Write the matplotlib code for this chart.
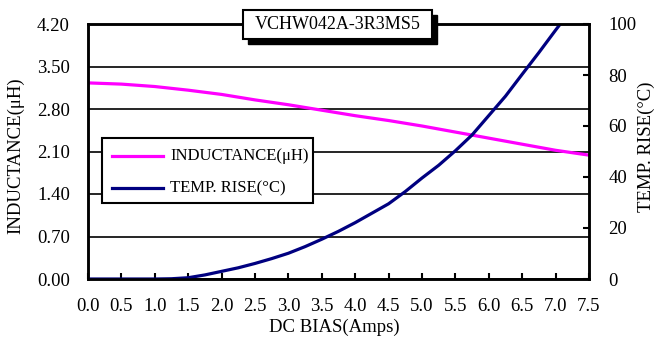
import matplotlib
matplotlib.use("Agg")
import matplotlib.pyplot as plt
from matplotlib.patches import Rectangle
from matplotlib.lines import Line2D

plt.rcParams['font.family'] = ['Liberation Serif', 'DejaVu Serif']

# data
bias = [0.0, 0.5, 1.0, 1.5, 2.0, 2.5, 3.0, 3.5, 4.0, 4.5, 5.0, 5.5, 6.0, 6.5, 7.0, 7.5]
inductance = [3.23, 3.21, 3.17, 3.11, 3.04, 2.95, 2.87, 2.78, 2.69, 2.61, 2.52, 2.42, 2.32, 2.22, 2.12, 2.04]
temp_bias = [0.0, 0.5, 1.0, 1.25, 1.5, 1.75, 2.0, 2.25, 2.5, 2.75, 3.0, 3.25, 3.5, 3.75,
             4.0, 4.25, 4.5, 4.75, 5.0, 5.25, 5.5, 5.75, 6.0, 6.25, 6.5, 6.75, 7.0, 7.07]
temp_rise = [0.0, 0.0, 0.0, 0.1, 0.5, 1.6, 3.0, 4.4, 6.1, 8.0, 10.1, 12.7, 15.6, 18.7,
             22.1, 25.8, 29.5, 34.3, 39.6, 44.6, 50.3, 56.5, 64.1, 71.7, 80.3, 88.8, 97.6, 100.0]
left_ticks = [0.0, 0.70, 1.40, 2.10, 2.80, 3.50, 4.20]
right_ticks = [0, 20, 40, 60, 80, 100]
x_ticks = [0.0, 0.5, 1.0, 1.5, 2.0, 2.5, 3.0, 3.5, 4.0, 4.5, 5.0, 5.5, 6.0, 6.5, 7.0, 7.5]
title = "VCHW042A-3R3MS5"

W, H = 657, 339
fig = plt.figure(figsize=(W / 100, H / 100), dpi=100)
ax = fig.add_axes([88 / W, 1 - 279 / H, 501 / W, 255 / H])
ax2 = ax.twinx()

l1, = ax.plot(bias, inductance, color='#ff00ff', lw=2.3, solid_capstyle='butt')
l2, = ax2.plot(temp_bias, temp_rise, color='#000080', lw=2.3, solid_capstyle='butt')

ax.set_xlim(0, 7.5)
ax.set_ylim(0, 4.2)
ax2.set_ylim(0, 100)
ax.set_xticks(x_ticks)
ax.set_xticklabels(['%.1f' % v for v in x_ticks])
ax.set_yticks(left_ticks)
ax.set_yticklabels(['%.2f' % v for v in left_ticks])
ax2.set_yticks(right_ticks)
ax.grid(axis='y', color='black', lw=1.2)
ax.set_axisbelow(True)

ax.tick_params(axis='x', direction='in', length=4, width=1.5, pad=14, labelsize=13.5)
ax.tick_params(axis='y', length=0, pad=13, labelsize=13.5)
ax2.tick_params(axis='y', direction='in', length=4, width=1.5, pad=14, labelsize=13.5)
for a in (ax, ax2):
    for s in a.spines.values():
        s.set_linewidth(1.8)

fig.text(16 / W, 1 - 156 / H, 'INDUCTANCE(\u03bcH)', rotation=90, ha='center', va='center', fontsize=13.5)
fig.text(646 / W, 1 - 147 / H, 'TEMP. RISE(\u00b0C)', rotation=90, ha='center', va='center', fontsize=13.5)
fig.text(334 / W, 1 - 327 / H, 'DC BIAS(Amps)', ha='center', va='center', fontsize=13.5)

# title box with shadow
bx0, bx1, by0, by1 = 243, 432, 10, 39
fig.add_artist(Rectangle(((bx0 + 5) / W, 1 - (by1 + 5) / H), (bx1 - bx0) / W, (by1 - by0) / H,
                         transform=fig.transFigure, facecolor='black', edgecolor='black', zorder=5))
fig.add_artist(Rectangle((bx0 / W, 1 - by1 / H), (bx1 - bx0) / W, (by1 - by0) / H,
                         transform=fig.transFigure, facecolor='white', edgecolor='black', lw=1.5, zorder=6))
fig.text((bx0 + bx1) / 2 / W, 1 - (by0 + by1) / 2 / H, title, ha='center', va='center',
         fontsize=13, zorder=7)

# legend box
lx0, lx1, ly0, ly1 = 102, 313, 138, 203
fig.add_artist(Rectangle((lx0 / W, 1 - ly1 / H), (lx1 - lx0) / W, (ly1 - ly0) / H,
                         transform=fig.transFigure, facecolor='white', edgecolor='black', lw=1.5, zorder=5))
for yy, line, lab in [(156, l1, 'INDUCTANCE(\u03bcH)'), (188, l2, 'TEMP. RISE(\u00b0C)')]:
    fig.add_artist(Line2D([112 / W, 163 / W], [1 - yy / H, 1 - yy / H], transform=fig.transFigure,
                          color=line.get_color(), lw=2.3, zorder=6))
    fig.text(170 / W, 1 - yy / H, lab, ha='left', va='center', fontsize=12, zorder=7)

fig.savefig('out.png', dpi=100)
